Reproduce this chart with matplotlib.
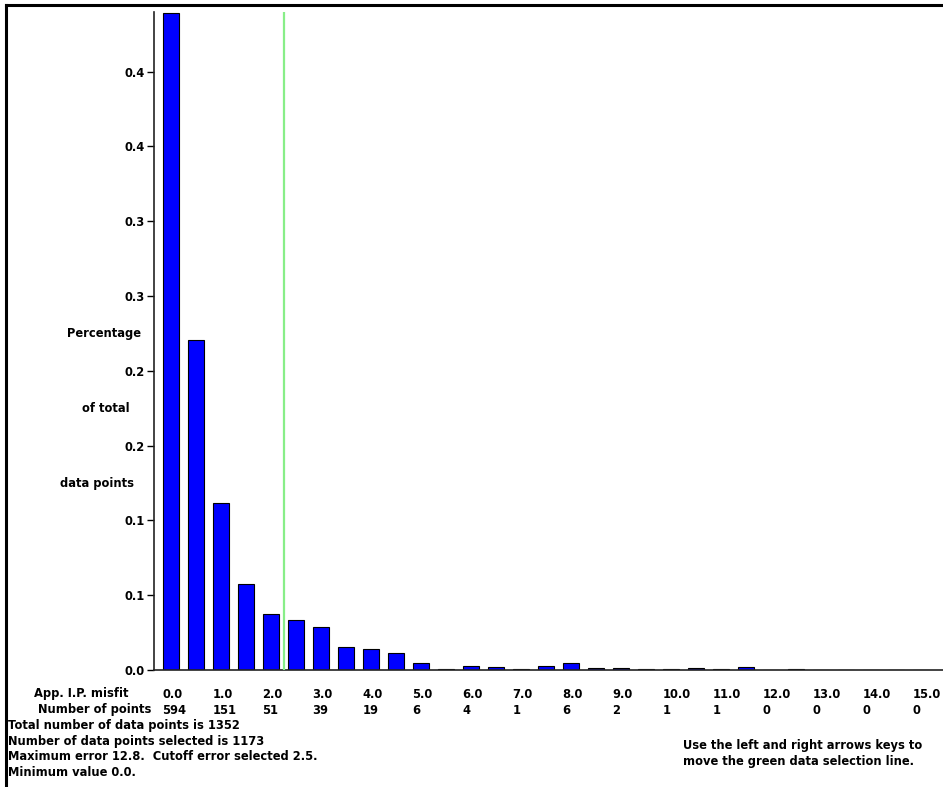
import matplotlib
matplotlib.use("Agg")
import matplotlib.pyplot as plt
from matplotlib.lines import Line2D
from matplotlib.transforms import blended_transform_factory

# ---- data ----
bin_positions = [i * 0.5 for i in range(31)]          # 0.0 .. 15.0
bin_counts = [594, 298, 151, 78, 51, 45, 39, 21, 19, 15, 6, 1, 4, 3, 1, 4,
              6, 2, 2, 1, 1, 2, 1, 3, 0, 1, 0, 0, 0, 0, 0]
total_points = 1352
selected_points = 1173
max_error = 12.8
cutoff_error = 2.5
cutoff_line_x = 2.25
ytick_values = [0.0, 0.05, 0.10, 0.15, 0.20, 0.25, 0.30, 0.35, 0.40]
ytick_labels = ['0.0', '0.1', '0.1', '0.2', '0.2', '0.3', '0.3', '0.4', '0.4']
misfit_labels = [f"{v:.1f}" for v in range(16)]
ylabel_lines = ["Percentage", "of total", "data points"]

fractions = [c / total_points for c in bin_counts]

W, H = 943, 787
fig = plt.figure(figsize=(W / 100, H / 100), dpi=100)
FONT = dict(family="DejaVu Sans", weight="bold", size=8.3)

def fy(ypix):
    return 1 - ypix / H

def fx(xpix):
    return xpix / W

ax = fig.add_axes([fx(154), fy(670), 1 - fx(154), (670 - 12) / H])
ax.bar(bin_positions, fractions, width=0.33, color="#0000ff",
       edgecolor="black", linewidth=0.8, zorder=2)
ax.axvline(cutoff_line_x, color="#88ee88", linewidth=1.6, zorder=3)

ax.set_xlim(-0.34, 15.44)
ax.set_ylim(0, 0.4398)
for s in ["top", "right"]:
    ax.spines[s].set_visible(False)
for s in ["left", "bottom"]:
    ax.spines[s].set_linewidth(1.2)
    ax.spines[s].set_color("#222222")
ax.set_xticks([])
ax.set_yticks(ytick_values)
ax.set_yticklabels(ytick_labels, **FONT)
ax.tick_params(axis="y", direction="out", length=5, width=1, pad=2)

# y-label lines
ylab_pos = [(67, 333), (82, 408), (60, 483)]
for (xp, yp), txt in zip(ylab_pos, ylabel_lines):
    fig.text(fx(xp), fy(yp), txt, ha="left", va="center", **FONT)

# bottom table rows
trans = blended_transform_factory(ax.transData, fig.transFigure)
fig.text(fx(34), fy(694), "App. I.P. misfit", ha="left", va="center", **FONT)
fig.text(fx(38), fy(710), "Number of points", ha="left", va="center", **FONT)
for i, lab in enumerate(misfit_labels):
    xpos = float(i) - 0.17
    fig.text(xpos, fy(694), lab, transform=trans, ha="left", va="center", **FONT)
    cnt = bin_counts[bin_positions.index(float(i))]
    fig.text(xpos, fy(710), str(cnt), transform=trans, ha="left", va="center", **FONT)

info_lines = [
    f"Total number of data points is {total_points}",
    f"Number of data points selected is {selected_points}",
    f"Maximum error {max_error:.1f}.  Cutoff error selected {cutoff_error:.1f}.",
    "Minimum value 0.0.",
]
for k, line in enumerate(info_lines):
    fig.text(fx(8), fy(726 + 15.5 * k), line, ha="left", va="center", **FONT)

fig.text(fx(683), fy(745), "Use the left and right arrows keys to", ha="left", va="center", **FONT)
fig.text(fx(683), fy(761), "move the green data selection line.", ha="left", va="center", **FONT)

# window frame (top and left)
fig.add_artist(Line2D([fx(6), 1], [fy(5), fy(5)], color="black", linewidth=2.2, transform=fig.transFigure))
fig.add_artist(Line2D([fx(6), fx(6)], [0, fy(5)], color="black", linewidth=2.2, transform=fig.transFigure))

fig.savefig("out.png", dpi=100)
